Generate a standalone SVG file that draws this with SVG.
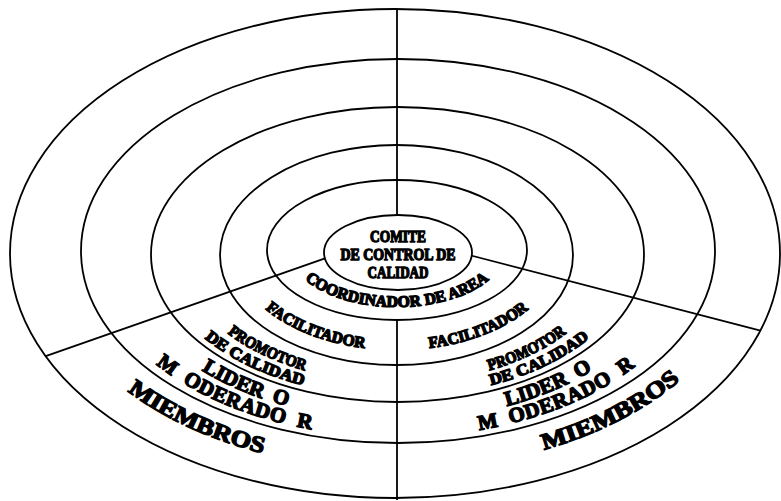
<svg xmlns="http://www.w3.org/2000/svg" xmlns:xlink="http://www.w3.org/1999/xlink" width="781" height="501" viewBox="0 0 781 501">
<style>
.ring{fill:none;stroke:#000;stroke-width:1.8}
.conn{stroke:#000;stroke-width:1.8;fill:none}
.t{font-family:"Liberation Serif","Times New Roman",serif;font-weight:bold;fill:#000;stroke:#000;stroke-width:1.4;stroke-linejoin:round}
</style>
<defs>
<path id="pCoord" d="M301.7,276.1 A106,55 0 0 0 492.3,276.1"/>
<path id="pFacL" d="M264.3,308.2 A162,98 0 0 0 366.1,348.2"/>
<path id="pFacR" d="M427.9,348.2 A162,98 0 0 0 529.7,308.2"/>
<path id="pProL" d="M226.8,332.7 A216,131 0 0 0 305.7,370.7"/>
<path id="pProR" d="M488.3,370.7 A216,131 0 0 0 567.2,332.7"/>
<path id="pCalL" d="M201.2,335.2 A239,145 0 0 0 307.5,386.4"/>
<path id="pCalR" d="M486.5,386.4 A239,145 0 0 0 592.8,335.2"/>
<path id="pLidL" d="M195.9,366.6 A275,168 0 0 0 294,407.8"/>
<path id="pLidR" d="M500,407.8 A275,168 0 0 0 598.1,366.6"/>
<path id="pModL" d="M142.9,352.8 A303,185 0 0 0 328.8,432.3"/>
<path id="pModR" d="M454.8,433.6 A303,185 0 0 0 653.9,350"/>
<path id="pMieL" d="M125,389.2 A350,218 0 0 0 265.9,454.1"/>
<path id="pMieR" d="M539.3,451.1 A350,218 0 0 0 683.7,377"/>
</defs>
<rect width="781" height="501" fill="#fff"/>
<g id="miembros">
<ellipse class="ring" cx="395" cy="253.5" rx="385" ry="244.5"/>
<text class="t" font-size="23"><textPath xlink:href="#pMieL" startOffset="50%" text-anchor="middle" textLength="150" lengthAdjust="spacingAndGlyphs">MIEMBROS</textPath></text>
<text class="t" font-size="23"><textPath xlink:href="#pMieR" startOffset="50%" text-anchor="middle" textLength="154" lengthAdjust="spacingAndGlyphs">MIEMBROS</textPath></text>
</g>
<g id="lider">
<ellipse class="ring" cx="398" cy="251" rx="317" ry="192"/>
<text class="t" font-size="21" word-spacing="5"><textPath xlink:href="#pLidL" startOffset="50%" text-anchor="middle">LIDER O</textPath></text>
<text class="t" font-size="21" word-spacing="6" letter-spacing="0.5"><textPath xlink:href="#pModL" startOffset="50%" text-anchor="middle">M ODERADO R</textPath></text>
<text class="t" font-size="21" word-spacing="5"><textPath xlink:href="#pLidR" startOffset="50%" text-anchor="middle">LIDER O</textPath></text>
<text class="t" font-size="21" word-spacing="6" letter-spacing="0.5"><textPath xlink:href="#pModR" startOffset="50%" text-anchor="middle">M ODERADO R</textPath></text>
</g>
<g id="promotor">
<ellipse class="ring" cx="397.5" cy="254.5" rx="246.5" ry="147.5"/>
<text class="t" font-size="16"><textPath xlink:href="#pProL" startOffset="50%" text-anchor="middle" textLength="86" lengthAdjust="spacingAndGlyphs">PROMOTOR</textPath></text>
<text class="t" font-size="16"><textPath xlink:href="#pCalL" startOffset="50%" text-anchor="middle" textLength="110" lengthAdjust="spacingAndGlyphs">DE CALIDAD</textPath></text>
<text class="t" font-size="16"><textPath xlink:href="#pProR" startOffset="50%" text-anchor="middle" textLength="86" lengthAdjust="spacingAndGlyphs">PROMOTOR</textPath></text>
<text class="t" font-size="16"><textPath xlink:href="#pCalR" startOffset="50%" text-anchor="middle" textLength="110" lengthAdjust="spacingAndGlyphs">DE CALIDAD</textPath></text>
</g>
<g id="facilitador">
<ellipse class="ring" cx="396.5" cy="255" rx="176.5" ry="110"/>
<text class="t" font-size="16"><textPath xlink:href="#pFacL" startOffset="50%" text-anchor="middle" textLength="108" lengthAdjust="spacingAndGlyphs">FACILITADOR</textPath></text>
<text class="t" font-size="16"><textPath xlink:href="#pFacR" startOffset="50%" text-anchor="middle" textLength="108" lengthAdjust="spacingAndGlyphs">FACILITADOR</textPath></text>
</g>
<g id="coordinador">
<ellipse class="ring" cx="397" cy="250" rx="130" ry="70"/>
<text class="t" font-size="16"><textPath xlink:href="#pCoord" startOffset="50%" text-anchor="middle" textLength="196" lengthAdjust="spacingAndGlyphs">COORDINADOR DE AREA</textPath></text>
</g>
<g id="comite">
<ellipse class="ring" cx="398" cy="252.5" rx="74" ry="37.5"/>
<text class="t" font-size="17" x="398" y="242" text-anchor="middle" textLength="56" lengthAdjust="spacingAndGlyphs">COMITE</text>
<text class="t" font-size="17" x="398" y="260" text-anchor="middle" textLength="115" lengthAdjust="spacingAndGlyphs">DE CONTROL DE</text>
<text class="t" font-size="17" x="398" y="278" text-anchor="middle" textLength="61" lengthAdjust="spacingAndGlyphs">CALIDAD</text>
</g>
<g id="connectors">
<line class="conn" x1="397" y1="9" x2="397" y2="215"/>
<line class="conn" x1="397" y1="320" x2="397" y2="500"/>
<line class="conn" x1="325" y1="258.4" x2="45" y2="356.4"/>
<line class="conn" x1="471" y1="255.5" x2="760.5" y2="330.6"/>
</g>
</svg>
